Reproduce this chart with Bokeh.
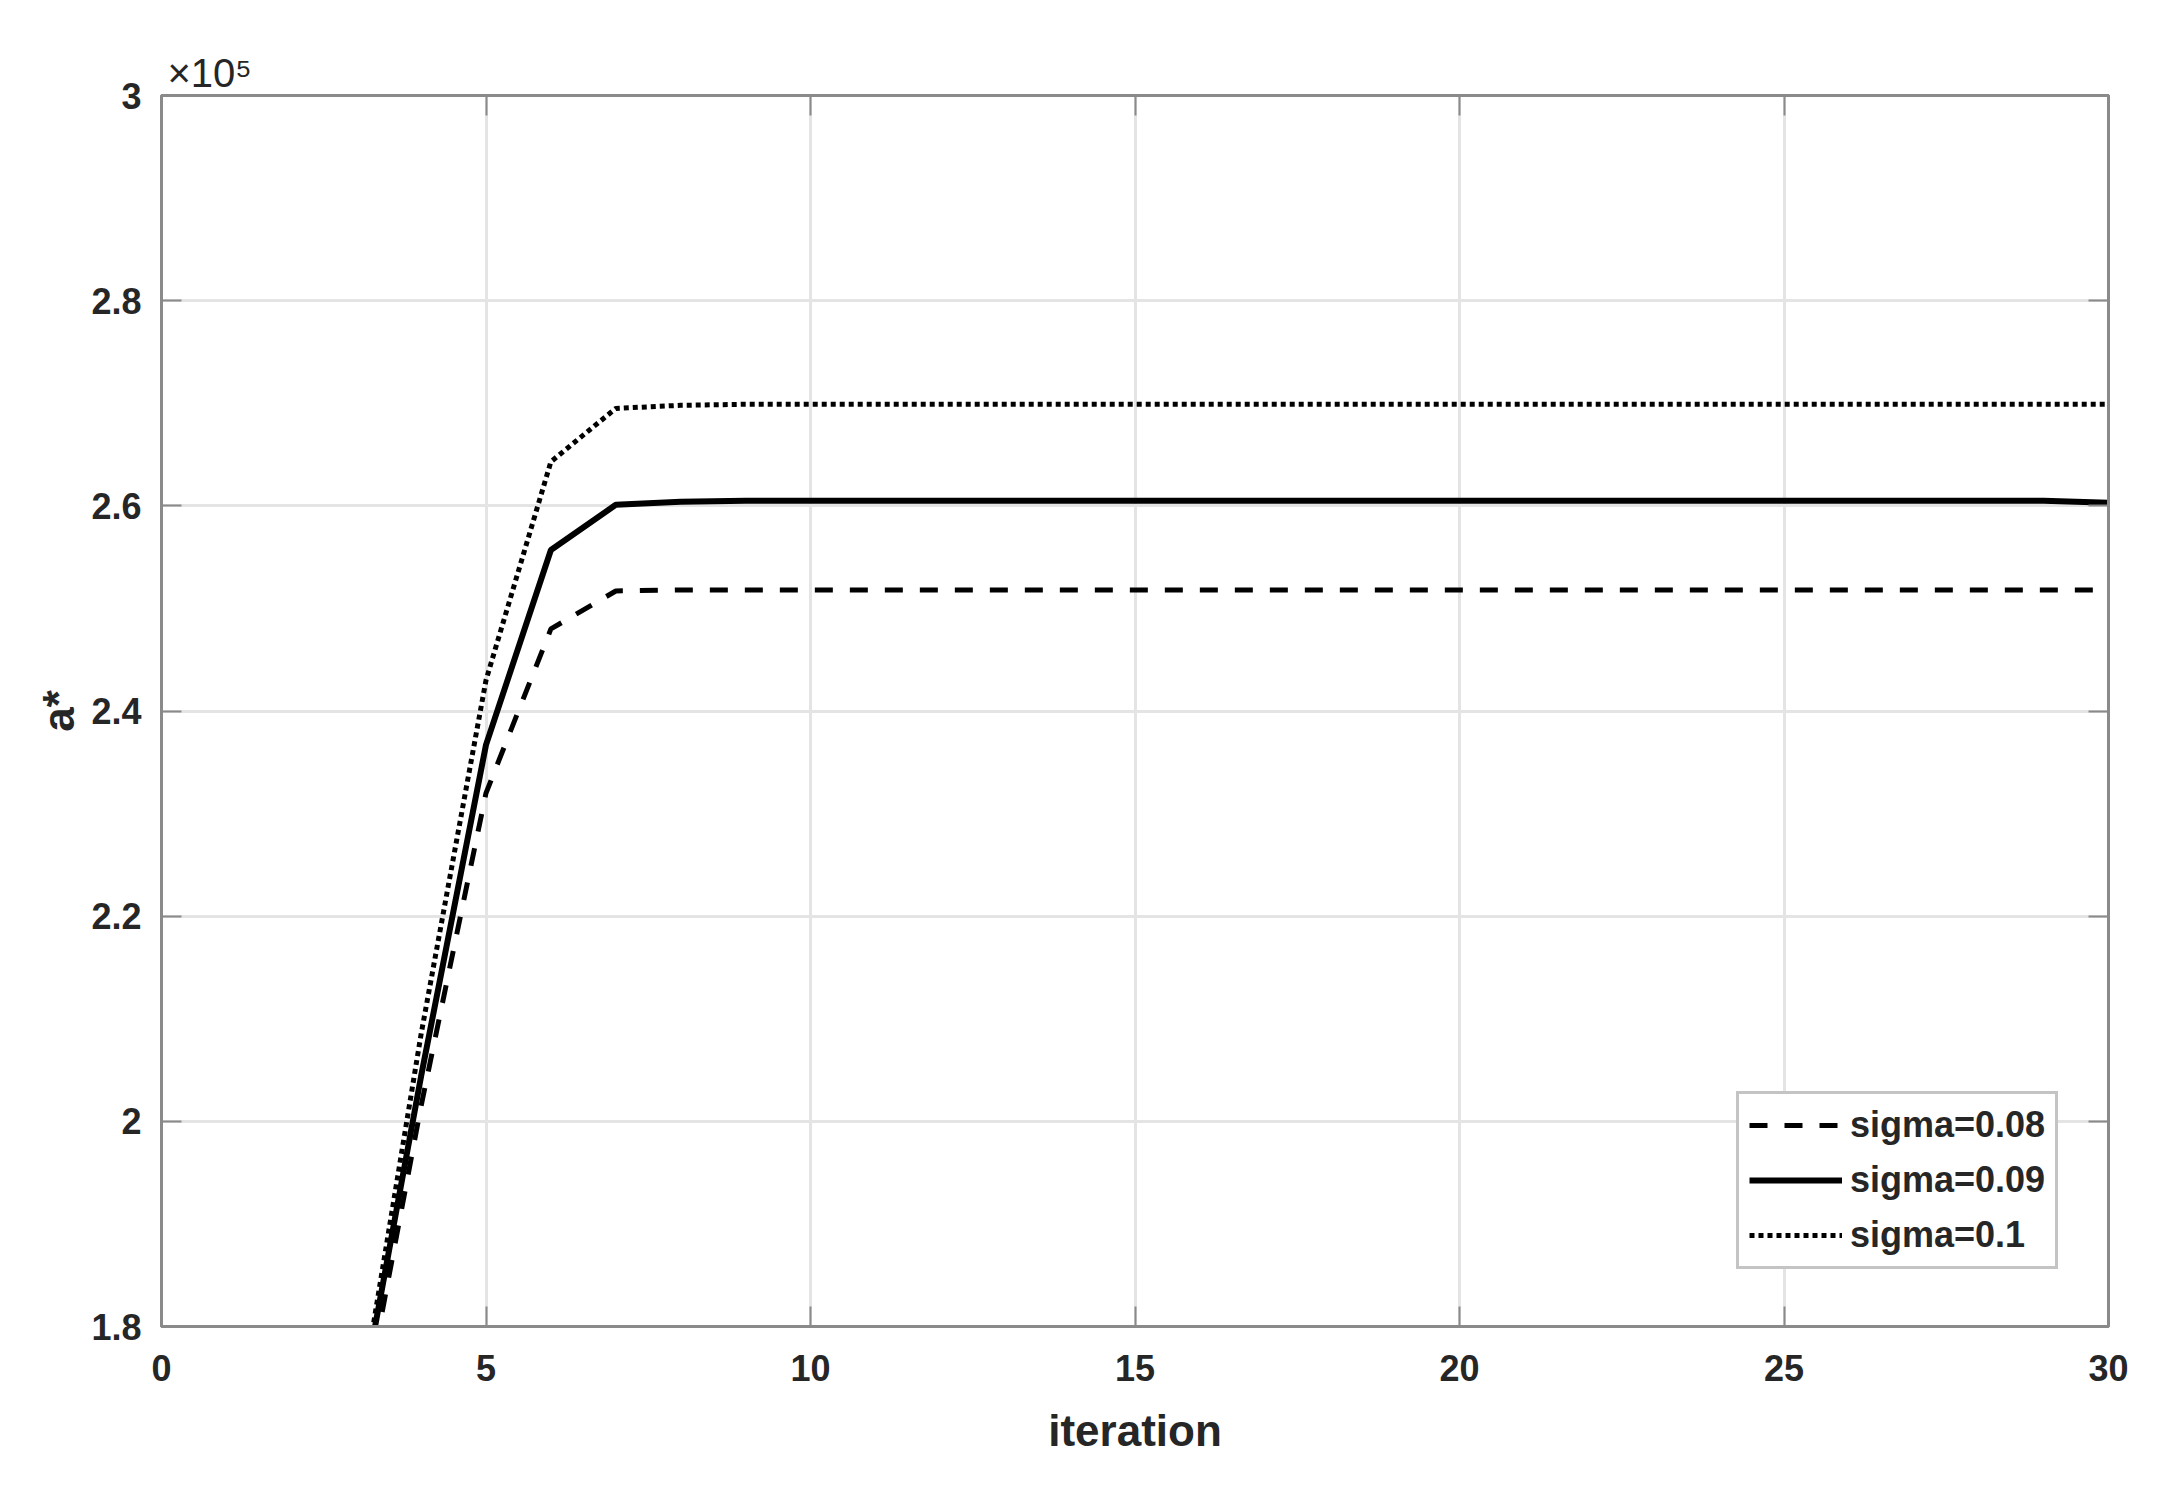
from bokeh.plotting import figure
from bokeh.models import (LinearAxis, FixedTicker, Legend, LegendItem, Title,
                          Range1d, ColumnDataSource)
from bokeh.embed import file_html
from bokeh.resources import INLINE

# ---------------- data (values in units of 10^5) ----------------
iterations = [3, 4, 5, 6, 7, 8, 9, 10, 11, 12, 13, 14, 15, 16, 17, 18, 19, 20,
              21, 22, 23, 24, 25, 26, 27, 28, 29, 30]
sigma_008 = [1.68, 2.015, 2.32, 2.48, 2.517, 2.518, 2.518, 2.518, 2.518, 2.518,
             2.518, 2.518, 2.518, 2.518, 2.518, 2.518, 2.518, 2.518, 2.518, 2.518,
             2.518, 2.518, 2.518, 2.518, 2.518, 2.518, 2.518, 2.518]
sigma_009 = [1.70, 2.044, 2.367, 2.557, 2.601, 2.604, 2.605, 2.605, 2.605, 2.605,
             2.605, 2.605, 2.605, 2.605, 2.605, 2.605, 2.605, 2.605, 2.605, 2.605,
             2.605, 2.605, 2.605, 2.605, 2.605, 2.605, 2.605, 2.603]
sigma_01 = [1.70, 2.085, 2.43, 2.643, 2.695, 2.698, 2.699, 2.699, 2.699, 2.699,
            2.699, 2.699, 2.699, 2.699, 2.699, 2.699, 2.699, 2.699, 2.699, 2.699,
            2.699, 2.699, 2.699, 2.699, 2.699, 2.699, 2.699, 2.699]
series_names = ["sigma=0.08", "sigma=0.09", "sigma=0.1"]

x_ticks = [0, 5, 10, 15, 20, 25, 30]
x_tick_labels = ["0", "5", "10", "15", "20", "25", "30"]
y_ticks = [1.8, 2.0, 2.2, 2.4, 2.6, 2.8, 3.0]
y_tick_labels = ["1.8", "2", "2.2", "2.4", "2.6", "2.8", "3"]
x_title = "iteration"
y_title = "a*"
exponent_text = "\u00d710\u2075"

# ---------------- styling ----------------
FONT = "Liberation Sans Narrow, Liberation Sans, Arial, sans-serif"
AX = "#8a8a8a"
TXT = "#262626"

ds = ColumnDataSource(dict(x=iterations, s1=sigma_008, s2=sigma_009, s3=sigma_01))

p = figure(width=2160, height=1490, x_range=Range1d(0, 30), y_range=Range1d(1.8, 3.0),
           output_backend="svg", toolbar_location=None,
           min_border_left=161, min_border_right=52, min_border_top=95,
           min_border_bottom=164, background_fill_color="white",
           border_fill_color="white")

p.outline_line_color = AX
p.outline_line_width = 3

for ax in (p.xaxis[0], p.yaxis[0]):
    ax.axis_line_color = AX
    ax.axis_line_width = 3
    ax.major_tick_line_color = AX
    ax.major_tick_line_width = 2
    ax.major_tick_in = 20
    ax.major_tick_out = 0
    ax.minor_tick_line_color = None
    ax.major_label_text_font = FONT
    ax.major_label_text_font_style = "bold"
    ax.major_label_text_font_size = "36px"
    ax.major_label_text_color = TXT
    ax.axis_label_text_font = FONT
    ax.axis_label_text_font_style = "bold"
    ax.axis_label_text_font_size = "44px"
    ax.axis_label_text_color = TXT

p.xaxis.ticker = FixedTicker(ticks=x_ticks)
p.xaxis.major_label_overrides = {t: l for t, l in zip(x_ticks, x_tick_labels)}
p.xaxis.major_label_standoff = 28
p.xaxis.axis_label = x_title
p.xaxis.axis_label_standoff = 22

p.yaxis.ticker = FixedTicker(ticks=y_ticks)
p.yaxis.major_label_overrides = {t: l for t, l in zip(y_ticks, y_tick_labels)}
p.yaxis.major_label_standoff = 20
p.yaxis.axis_label = y_title
p.yaxis.axis_label_standoff = 5

# top and right axes: ticks only
top = LinearAxis(ticker=FixedTicker(ticks=x_ticks),
                 major_label_overrides={t: "" for t in x_ticks})
right = LinearAxis(ticker=FixedTicker(ticks=y_ticks),
                   major_label_overrides={t: "" for t in y_ticks})
for ax in (top, right):
    ax.axis_line_color = AX
    ax.axis_line_width = 3
    ax.major_tick_line_color = AX
    ax.major_tick_line_width = 2
    ax.major_tick_in = 20
    ax.major_tick_out = 0
    ax.minor_tick_line_color = None
    ax.major_label_text_font_size = "1px"
    ax.major_label_standoff = 0
p.add_layout(top, "above")
p.add_layout(right, "right")

# exponent marker above the y axis
p.add_layout(Title(text=exponent_text, align="left", offset=6, standoff=2,
                   text_font=FONT, text_font_size="40px", text_font_style="normal",
                   text_color=TXT), "above")

p.xgrid.ticker = FixedTicker(ticks=x_ticks)
p.ygrid.ticker = FixedTicker(ticks=y_ticks)
p.xgrid.grid_line_color = "#e4e4e4"
p.ygrid.grid_line_color = "#e4e4e4"
p.xgrid.grid_line_width = 3
p.ygrid.grid_line_width = 3

r1 = p.line("x", "s1", source=ds, line_color="black", line_width=5, line_dash="18 17")
r2 = p.line("x", "s2", source=ds, line_color="black", line_width=6)
r3 = p.line("x", "s3", source=ds, line_color="black", line_width=5, line_dash="5 4")

legend = Legend(items=[LegendItem(label=series_names[0], renderers=[r1]),
                       LegendItem(label=series_names[1], renderers=[r2]),
                       LegendItem(label=series_names[2], renderers=[r3])],
                location=(1575, 57), orientation="vertical",
                label_text_font=FONT, label_text_font_style="bold",
                label_text_font_size="36px", label_text_color=TXT,
                glyph_width=93, glyph_height=40, label_height=40,
                spacing=13, padding=10, margin=0, label_standoff=8,
                border_line_color=AX, border_line_width=3,
                background_fill_color="white", background_fill_alpha=1.0)
p.add_layout(legend)

open("out.html", "w").write(file_html(p, INLINE))
